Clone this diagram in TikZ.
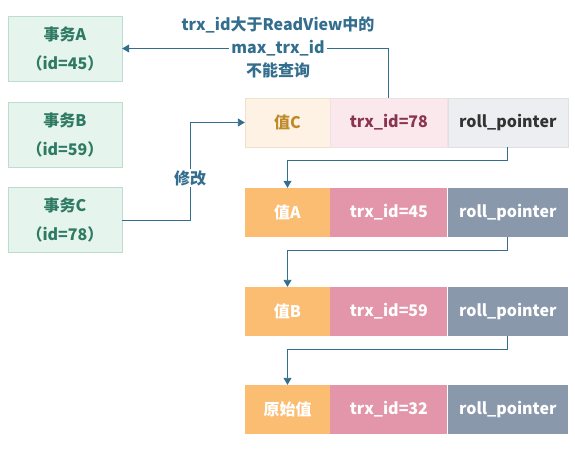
\documentclass[tikz,border=0pt]{standalone}
\usepackage{fontspec}
\setmainfont{Noto Sans CJK SC}
\usepackage{tikz}
\usetikzlibrary{arrows.meta,positioning}
\definecolor{txfill}{HTML}{E6F4EE}
\definecolor{txrand}{HTML}{BFDCD0}
\definecolor{txtext}{HTML}{2F7A63}
\definecolor{pfeilblau}{HTML}{336E8E}
\definecolor{wertC}{HTML}{FDF2E4}
\definecolor{wertCtext}{HTML}{C08A2A}
\definecolor{trxC}{HTML}{FBE8EC}
\definecolor{trxCtext}{HTML}{8A3550}
\definecolor{rollC}{HTML}{EDEEF1}
\definecolor{wertfill}{HTML}{FBBD72}
\definecolor{trxfill}{HTML}{E396A9}
\definecolor{rollfill}{HTML}{8A98AB}
\tikzset{
  tx/.style={draw=txrand,fill=txfill,text=txtext,minimum width=114pt,minimum height=65pt,align=center,inner sep=0pt,font=\fontsize{16}{29}\selectfont\bfseries},
  zelle/.style={minimum height=49pt,inner sep=0pt,font=\fontsize{16}{20}\selectfont\bfseries},
  wert/.style={zelle,minimum width=85pt,fill=wertfill,text=white},
  trx/.style={zelle,minimum width=117pt,fill=trxfill,text=white},
  roll/.style={zelle,minimum width=120pt,fill=rollfill,text=white},
  pfeil/.style={draw=pfeilblau,line width=0.9pt,-{Triangle[width=8pt,length=7pt]}},
  lbl/.style={text=pfeilblau,align=center,inner sep=1pt,font=\fontsize{16}{23}\selectfont\bfseries}
}
\setlength{\fboxsep}{2pt}
\begin{document}
\begin{tikzpicture}[x=1pt,y=-1pt]
\useasboundingbox (0,0) rectangle (575,449);
%Transaktionen links
\foreach \n/\id/\y in {A/45/48.5,B/59/135,C/78/220}{
  \node[tx] (t\n) at (65,\y) {事务\n\\（id=\id）};
}
%oberste Version (von C geschrieben)
\node[wert,fill=wertC,text=wertCtext,draw=wertCtext!25] (w1) at (287.5,122.5) {值C};
\node[trx,fill=trxC,text=trxCtext,draw=trxCtext!15,right=0pt of w1] (x1) {trx\_id=78};
\node[roll,fill=rollC,text=black!80,draw=black!12,right=0pt of x1] (p1) {roll\_pointer};
%alte Versionen
\foreach \r/\val/\trx/\y in {2/值A/45/212.5,3/值B/59/311.5,4/原始值/32/409.5}{
  \node[wert] (w\r) at (287.5,\y) {\val};
  \node[trx,right=0pt of w\r] (x\r) {trx\_id=\trx};
  \node[roll,right=0pt of x\r] (p\r) {roll\_pointer};
}
\foreach \a/\b in {1/2,2/3,3/4}{
  \draw[pfeil] (p\a.south) -- ++(0,13) -| (w\b.north);
}
\draw[pfeil] (tC.east) -- ++(68,0) |- (w1.west);
\node[lbl,fill=white] (mod) at (190,178) {修改};
\draw[pfeil] (x1.north) |- (tA.east);
\node[lbl] (info) at (278,47) {trx\_id大于ReadView中的\\\colorbox{white}{max\_trx\_id}\\不能查询};
\end{tikzpicture}
\end{document}
